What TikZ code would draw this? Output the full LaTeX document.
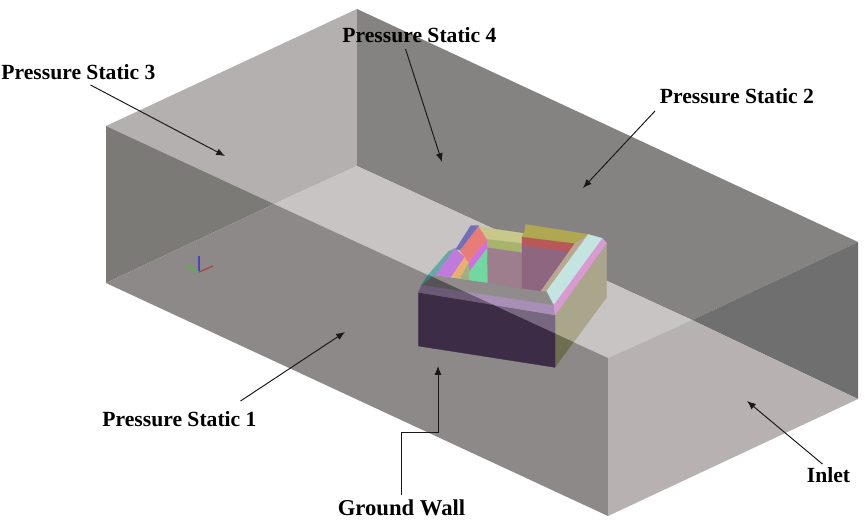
\documentclass[tikz,border=0pt]{standalone}
\usepackage{fontspec}
\setmainfont{Liberation Serif}
\usetikzlibrary{arrows.meta}
\definecolor{wallL}{HTML}{B5B0B0}
\definecolor{wallB}{HTML}{858282}
\definecolor{floorC}{HTML}{C9C4C4}
\definecolor{frontA}{HTML}{8D8988}
\definecolor{frontB}{HTML}{7C7A77}
\definecolor{inletA}{HTML}{B7B2B1}
\definecolor{inletB}{HTML}{6F6F6F}
\definecolor{Cviolet}{HTML}{C07ADB}
\definecolor{Corange}{HTML}{E8B070}
\definecolor{Cgreen}{HTML}{A0B080}
\definecolor{Csalmon}{HTML}{E87C78}
\definecolor{Cblue}{HTML}{7070B8}
\definecolor{Cmagenta}{HTML}{D070E0}
\definecolor{Cmint}{HTML}{70D8A0}
\definecolor{Ckhaki}{HTML}{C8C88A}
\definecolor{Colgreen}{HTML}{A8B46C}
\definecolor{Cmauve}{HTML}{9C7E8C}
\definecolor{Cmauveb}{HTML}{8F6680}
\definecolor{Cred}{HTML}{B85858}
\definecolor{Cyell}{HTML}{B0A850}
\definecolor{Ctan}{HTML}{B8A890}
\definecolor{Ccyan}{HTML}{C4E4E2}
\definecolor{Cpink}{HTML}{D89AD0}
\definecolor{UolA}{HTML}{A9A68C}
\definecolor{UdkA}{HTML}{776880}
\definecolor{UbdA}{HTML}{A78FB5}
\definecolor{UrmA}{HTML}{8F8C8B}
\definecolor{UtlA}{HTML}{66A8A8}
\definecolor{UolB}{HTML}{6E6D50}
\definecolor{UdkB}{HTML}{3C2C45}
\definecolor{UbdB}{HTML}{6A5A75}
\definecolor{UrmB}{HTML}{565356}
\definecolor{UtlB}{HTML}{3F7A7A}
\newcommand{\lowerfaces}[5]{%
\fill[bface=#1] (465,315) -- (620,100) -- (620,262) -- (465,472) -- cycle;
\fill[bface=#2] (55,247) -- (465,315) -- (465,472) -- (55,408) -- cycle;
\fill[bface=#3] (65,225) -- (462,285) -- (465,315) -- (55,247) -- cycle;
\fill[bface=#4] (100,195) -- (440,243) -- (462,285) -- (65,225) -- cycle;
\fill[bface=#5] (65,225) -- (80,200) -- (145,125) -- (165,115) -- (108,195) -- (100,195) -- cycle;
}
\tikzset{
  face/.style={fill=#1,draw=none},
  bface/.style={fill=#1,draw=#1,line width=0.1pt},
  lbl/.style={font=\bfseries\fontsize{12.3}{14}\selectfont,inner sep=0pt,text=black},
  lblbig/.style={font=\bfseries\fontsize{12.9}{14}\selectfont,inner sep=0pt,text=black},
  callout/.style={-{Latex[length=5pt,width=4pt]},line width=0.55pt,black!90},
  axisline/.style={line width=0.7pt}
}
\begin{document}
\begin{tikzpicture}[x=0.02cm,y=-0.02cm]
\useasboundingbox (0,0) rectangle (865,529);
\fill[white] (0,0) rectangle (865,529);
% back and floor
\fill[face=wallL] (106,126) -- (357,9) -- (357,166) -- (274,204) -- cycle;
\fill[face=wallB] (357,9) -- (858,242) -- (692,320) -- (357,166) -- cycle;
\fill[face=floorC] (357,166) -- (692,320) -- (608,358) -- (274,204) -- cycle;
% parts seen through the front and inlet faces
\fill[face=frontB] (106,126) -- (274,204) -- (106,283) -- cycle;
\fill[face=frontA] (106,283) -- (274,204) -- (608,358) -- (608,516) -- cycle;
\fill[face=inletB] (692,320) -- (858,242) -- (858,399) -- cycle;
\fill[face=inletA] (608,358) -- (692,320) -- (858,399) -- (608,516) -- cycle;
% axes
\coordinate (ax0) at (199,272);
\coordinate (axz) at (199,256);
\coordinate (axy) at (186,266);
\coordinate (axx) at (213,266);
\draw[axisline,color={rgb,255:red,70;green,70;blue,190}] (ax0) -- (axz);
\draw[axisline,color={rgb,255:red,70;green,190;blue,50}] (ax0) -- (axy);
\draw[axisline,color={rgb,255:red,165;green,70;blue,70}] (ax0) -- (axx);
% building
\begin{scope}[shift={(400,210)},x=0.00667cm,y=-0.00667cm]
\lowerfaces{UolA}{UdkA}{UbdA}{UrmA}{UtlA}
\fill[bface=Cviolet] (108,195) -- (153,202) -- (195,142) -- (180,130) -- (165,115) -- cycle;
\fill[bface=Corange] (153,202) -- (195,140) -- (207,158) -- (180,205) -- cycle;
\fill[bface=Cgreen] (180,205) -- (207,158) -- (207,210) -- cycle;
\fill[bface=Cblue] (167,118) -- (212,47) -- (237,47) -- (182,120) -- cycle;
\fill[bface=Csalmon] (180,122) -- (235,50) -- (262,90) -- (205,155) -- (195,142) -- cycle;
\fill[bface=Cmagenta] (207,155) -- (262,90) -- (262,115) -- (208,185) -- cycle;
\fill[bface=Cmint] (208,185) -- (262,115) -- (263,218) -- (208,210) -- cycle;
\fill[bface=Ckhaki] (237,47) -- (270,55) -- (372,70) -- (366,100) -- (262,88) -- cycle;
\fill[bface=Colgreen] (262,88) -- (366,100) -- (366,128) -- (262,113) -- cycle;
\fill[bface=Cmauve] (262,113) -- (366,128) -- (366,235) -- (263,218) -- cycle;
\fill[bface=Cmauveb] (366,105) -- (520,125) -- (423,243) -- (366,235) -- cycle;
\fill[bface=Cred] (366,80) -- (525,100) -- (510,125) -- (366,105) -- cycle;
\fill[bface=Cyell] (378,43) -- (565,73) -- (525,100) -- (366,80) -- (372,70) -- cycle;
\fill[bface=Ctan] (423,243) -- (525,100) -- (565,73) -- (440,243) -- cycle;
\fill[bface=Ccyan] (440,243) -- (565,73) -- (608,85) -- (462,285) -- cycle;
\fill[bface=Cpink] (608,85) -- (620,100) -- (465,315) -- (462,285) -- cycle;
\begin{scope}
\clip (-882,-252) -- (624,444) -- (624,918) -- (-882,219) -- cycle;
\lowerfaces{UolB}{UdkB}{UbdB}{UrmB}{UtlB}
\end{scope}
\end{scope}
% labels
\node[lbl] (ps3) at (78.5,72) {Pressure Static 3};
\node[lbl] (ps4) at (419.5,35) {Pressure Static 4};
\node[lbl] (ps2) at (737,96) {Pressure Static 2};
\node[lbl] (ps1) at (179.5,419) {Pressure Static 1};
\node[lblbig] (gw) at (401.5,508) {Ground Wall};
\node[lbl] (inl) at (828.5,475) {Inlet};
% arrow targets
\coordinate (t3) at (225,156);
\coordinate (t4) at (442,162);
\coordinate (t2) at (583,188);
\coordinate (t1) at (345,332);
\coordinate (tg) at (438,366);
\coordinate (gb) at (438,432);
\coordinate (ti) at (747,401);
\draw[callout] ([shift={(12,5)}]ps3.south) -- (t3);
\draw[callout] ([shift={(-14,6)}]ps4.south) -- (t4);
\draw[callout] ([shift={(-82,7)}]ps2.south) -- (t2);
\draw[callout] ([shift={(61,-10)}]ps1.north) -- (t1);
\draw[callout] ([shift={(-0.5,-5)}]gw.north) |- (gb) -- (tg);
\draw[callout] ([shift={(-6,-3)}]inl.north) -- (ti);
\end{tikzpicture}
\end{document}
